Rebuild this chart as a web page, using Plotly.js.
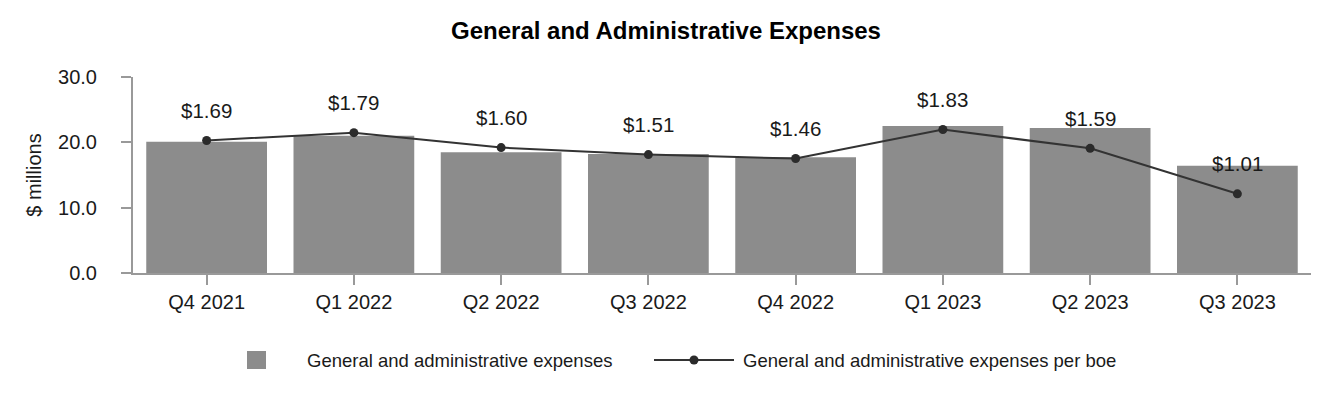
<!DOCTYPE html>
<html>
<head>
<meta charset="utf-8">
<script src="https://cdn.plot.ly/plotly-3.0.1.min.js"></script>
<style>html,body{margin:0;padding:0;background:#fff;}#chart{width:1332px;height:400px;}</style>
</head>
<body>
<div id="chart"></div>
<script>
// Data
const quarters = ["Q4 2021", "Q1 2022", "Q2 2022", "Q3 2022", "Q4 2022", "Q1 2023", "Q2 2023", "Q3 2023"];
const gaExpenses = [20.1, 21.0, 18.5, 18.2, 17.7, 22.5, 22.2, 16.4];
const gaPerBoe = [1.69, 1.79, 1.60, 1.51, 1.46, 1.83, 1.59, 1.01];
const seriesNames = ["General and administrative expenses", "General and administrative expenses per boe"];
const yTicks = [0, 10, 20, 30];

const FONT = "Liberation Sans, Arial, Helvetica, sans-serif";
const W = 1332, H = 400;
const M = {l: 133, r: 21, t: 77, b: 127};
const PW = W - M.l - M.r, PH = H - M.t - M.b;
const px = x => (x - M.l) / PW;
const py = y => (H - M.b - y) / PH;

const barColor = "#8c8c8c";
const lineColor = "#333333";

const traces = [
  {
    type: "bar", x: quarters, y: gaExpenses, name: seriesNames[0],
    marker: {color: barColor}, showlegend: false, hoverinfo: "skip"
  },
  {
    type: "scatter", mode: "lines+markers", x: quarters, y: gaPerBoe, yaxis: "y2",
    name: seriesNames[1], line: {color: lineColor, width: 2},
    marker: {color: "#2b2b2b", size: 9}, showlegend: false, hoverinfo: "skip"
  }
];

const annotations = quarters.map((q, i) => ({
  x: q, y: gaPerBoe[i], xref: "x", yref: "y2", yshift: 30,
  text: "$" + gaPerBoe[i].toFixed(2), showarrow: false,
  font: {family: FONT, size: 20.5, color: "#1a1a1a"}, xanchor: "center", yanchor: "middle"
}));

// Manual legend
const legY = 360;
annotations.push({
  xref: "paper", yref: "paper", x: px(305), y: py(legY), xanchor: "left", yanchor: "middle",
  text: seriesNames[0], showarrow: false, font: {family: FONT, size: 18.5, color: "#1a1a1a"}
});
annotations.push({
  xref: "paper", yref: "paper", x: px(741), y: py(legY), xanchor: "left", yanchor: "middle",
  text: seriesNames[1], showarrow: false, font: {family: FONT, size: 18.5, color: "#1a1a1a"}
});
const shapes = [
  {type: "rect", xref: "paper", yref: "paper", x0: px(247), x1: px(266), y0: py(legY - 9), y1: py(legY + 9),
   fillcolor: barColor, line: {width: 0}},
  {type: "line", xref: "paper", yref: "paper", x0: px(654), x1: px(734), y0: py(legY), y1: py(legY),
   line: {color: lineColor, width: 2}},
  {type: "circle", xref: "paper", yref: "paper", x0: px(689.5), x1: px(698.5), y0: py(legY - 4.5), y1: py(legY + 4.5),
   fillcolor: "#2b2b2b", line: {width: 0}}
];

const layout = {
  width: W, height: H,
  margin: M,
  paper_bgcolor: "#fff", plot_bgcolor: "#fff",
  font: {family: FONT, color: "#1a1a1a"},
  title: {
    text: "<b>General and Administrative Expenses</b>",
    font: {family: FONT, size: 24, color: "#000"},
    x: 0.5, xref: "container", y: 1 - 31 / H, yref: "container", yanchor: "middle"
  },
  bargap: 0.18,
  showlegend: false,
  xaxis: {
    type: "category", showline: true, linecolor: "#999", linewidth: 2,
    ticks: "outside", ticklen: 10, tickcolor: "#999", tickwidth: 2,
    tickfont: {family: FONT, size: 20, color: "#1a1a1a"},
    showgrid: false, zeroline: false, fixedrange: true
  },
  yaxis: {
    range: [0, 30], tickvals: yTicks, tickformat: ".1f",
    showline: true, linecolor: "#999", linewidth: 2,
    ticks: "outside", ticklen: 10, tickcolor: "#999", tickwidth: 2,
    tickfont: {family: FONT, size: 20, color: "#1a1a1a"},
    ticklabelstandoff: 20,
    showgrid: false, zeroline: false,
    title: {text: "$ millions", font: {family: FONT, size: 20, color: "#1a1a1a"}, standoff: 11}
  },
  yaxis2: {
    range: [0, 2.5], overlaying: "y", side: "right", visible: false, showgrid: false, zeroline: false
  },
  annotations: annotations,
  shapes: shapes
};

Plotly.newPlot("chart", traces, layout, {displayModeBar: false, staticPlot: true});
</script>
</body>
</html>
